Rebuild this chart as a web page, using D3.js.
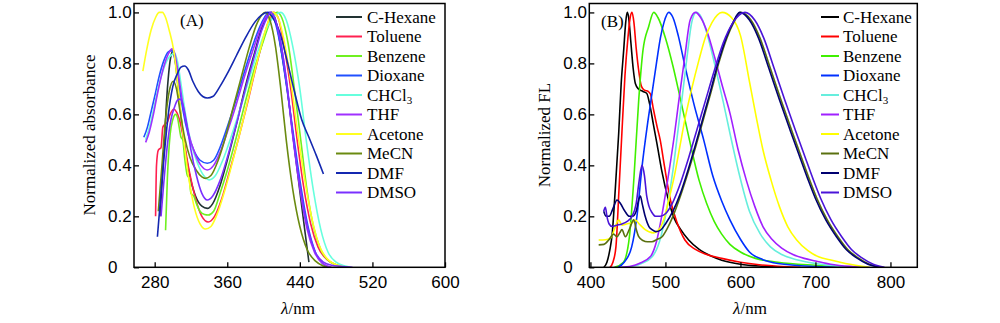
<!doctype html>
<html lang="en">
<head>
  <meta charset="utf-8">
  <title>Normalized absorbance and FL spectra</title>
  <style>
    body { margin: 0; background: #fff; }
    svg { display: block; font-family: "Liberation Serif", "Times New Roman", serif; }
    .tick line { stroke: #000; stroke-width: 1.3; }
    .tick text { font-size: 17px; fill: #000; }
    .frame { fill: none; stroke: #000; stroke-width: 1.5; }
    .curve { fill: none; stroke-width: 1.6; stroke-linejoin: round; }
    .lbl { font-size: 17px; fill: #000; }
  </style>
</head>
<body>
<svg id="chart" width="1000" height="323"></svg>
<script src="https://d3js.org/d3.v7.min.js"></script>
<script>
// solvent names, in legend order
const solvents = ['C-Hexane', 'Toluene', 'Benzene', 'Dioxane', 'CHCl3', 'THF', 'Acetone', 'MeCN', 'DMF', 'DMSO'];

// colours
const colorsA = ['#223333', '#ff2050', '#70f020', '#2050ff', '#66ffdd', '#a030ff', '#ffff20', '#6a8a10', '#1428b0', '#7a30ff'];
const colorsB = ['#000000', '#ff0000', '#40f000', '#0030ff', '#66eedd', '#a020ff', '#ffff00', '#5a7010', '#000070', '#4a14d8'];

const ticksA = [280, 360, 440, 520, 600];
const ticksB = [400, 500, 600, 700, 800];
const ticksY = [0, 0.2, 0.4, 0.6, 0.8, 1.0];

// (A) normalized absorbance, [wavelength nm, value]
const absCHexane = [[286,0.20],[290,0.45],[294,0.70],[298,0.83],[300.5,0.85],[303,0.80],[307,0.66],[312,0.50],[318,0.37],[325,0.28],[332,0.24],[338,0.231],[344,0.25],[352,0.32],[360,0.42],[370,0.56],[380,0.71],[390,0.84],[398,0.94],[404,0.99],[409,1.0],[414,0.96],[420,0.84],[426,0.70],[433,0.50],[441,0.27],[446,0.13],[450,0.02]];
const absToluene = [[281,0.20],[282,0.40],[284,0.46],[287,0.47],[289,0.55],[291,0.56],[294,0.57],[297,0.60],[301,0.62],[304,0.61],[308,0.57],[312,0.50],[318,0.38],[325,0.27],[332,0.20],[339,0.178],[346,0.20],[354,0.27],[362,0.37],[372,0.50],[382,0.64],[392,0.79],[400,0.90],[406,0.97],[411,1.0],[416,0.98],[422,0.88],[430,0.70],[437,0.50],[444,0.32],[452,0.17],[460,0.08],[470,0.03],[480,0.01],[488,0.0]];
const absBenzene = [[292,0.145],[294,0.35],[297,0.52],[300,0.58],[303,0.60],[305,0.59],[307,0.55],[309,0.51],[311,0.50],[313,0.43],[316,0.36],[318,0.35],[320,0.29],[323,0.28],[326,0.25],[330,0.22],[335,0.207],[339,0.205],[345,0.22],[352,0.29],[360,0.38],[370,0.51],[380,0.65],[390,0.78],[400,0.89],[408,0.97],[415,1.0],[420,0.98],[427,0.88],[434,0.70],[441,0.50],[448,0.30],[455,0.16],[463,0.07],[472,0.025],[482,0.008],[490,0.0]];
const absDioxane = [[268,0.51],[272,0.55],[276,0.61],[280,0.67],[285,0.75],[290,0.81],[295,0.845],[299,0.85],[302,0.82],[306,0.74],[311,0.62],[317,0.52],[323,0.46],[330,0.42],[338,0.408],[345,0.42],[352,0.47],[360,0.55],[370,0.66],[380,0.78],[390,0.89],[398,0.96],[406,1.0],[412,0.97],[418,0.88],[425,0.72],[433,0.52],[441,0.32],[449,0.16],[457,0.06],[465,0.015],[472,0.0]];
const absCHCl3 = [[270,0.50],[275,0.56],[280,0.64],[285,0.72],[290,0.78],[295,0.82],[299,0.835],[302,0.84],[305,0.81],[309,0.72],[314,0.60],[320,0.49],[327,0.41],[334,0.36],[340,0.343],[347,0.36],[355,0.42],[365,0.52],[375,0.63],[385,0.75],[395,0.86],[405,0.95],[413,0.99],[419,1.0],[425,0.97],[432,0.87],[440,0.70],[447,0.50],[455,0.30],[463,0.15],[471,0.06],[480,0.02],[490,0.005],[496,0.0]];
const absTHF = [[270,0.49],[274,0.53],[278,0.59],[283,0.68],[288,0.76],[293,0.82],[297,0.85],[299,0.857],[302,0.84],[306,0.76],[311,0.64],[317,0.53],[324,0.45],[331,0.40],[338,0.382],[345,0.40],[352,0.45],[360,0.53],[370,0.64],[380,0.76],[390,0.87],[398,0.95],[404,0.99],[407,1.0],[412,0.98],[418,0.90],[425,0.74],[432,0.52],[440,0.31],[448,0.15],[456,0.06],[465,0.015],[475,0.0]];
const absAcetone = [[267,0.77],[271,0.85],[276,0.93],[281,0.98],[285,1.0],[288.5,1.0],[292,0.98],[296,0.93],[301,0.85],[306,0.70],[312,0.50],[318,0.34],[324,0.23],[330,0.17],[336,0.15],[342,0.16],[350,0.22],[358,0.31],[367,0.43],[377,0.57],[387,0.72],[396,0.85],[403,0.94],[410,1.0],[416,0.98],[422,0.90],[430,0.73],[438,0.52],[446,0.33],[454,0.18],[462,0.08],[471,0.03],[480,0.01],[490,0.0]];
const absMeCN = [[284,0.22],[288,0.40],[292,0.58],[296,0.69],[300.5,0.73],[304,0.70],[308,0.61],[313,0.51],[319,0.43],[326,0.38],[332,0.355],[336,0.349],[342,0.36],[350,0.42],[358,0.51],[366,0.62],[375,0.74],[384,0.86],[392,0.95],[398,0.99],[402,1.0],[407,0.97],[413,0.87],[419,0.70],[425,0.50],[432,0.31],[440,0.16],[448,0.07],[457,0.025],[466,0.005],[470,0.0]];
const absDMF = [[283,0.12],[286,0.25],[290,0.42],[295,0.60],[300,0.71],[305,0.76],[309,0.785],[313,0.79],[317,0.775],[322,0.73],[328,0.69],[333,0.67],[338,0.664],[344,0.67],[352,0.71],[360,0.76],[370,0.83],[380,0.90],[390,0.96],[398,0.99],[404,1.0],[410,0.98],[418,0.92],[426,0.81],[434,0.69],[442,0.58],[450,0.51],[458,0.44],[466,0.366]];
const absDMSO = [[287,0.20],[290,0.33],[294,0.48],[298,0.58],[302,0.63],[305,0.655],[308,0.66],[311,0.64],[315,0.57],[320,0.46],[326,0.36],[332,0.29],[338,0.264],[344,0.28],[352,0.34],[360,0.43],[370,0.56],[380,0.70],[390,0.83],[398,0.93],[404,0.98],[408,1.0],[413,0.97],[419,0.88],[426,0.71],[433,0.50],[441,0.30],[449,0.15],[457,0.06],[466,0.02],[475,0.008],[485,0.004],[498,0.0]];

// (B) normalized fluorescence, [wavelength nm, value]
const flCHexane = [[418,0.0],[422,0.02],[426,0.07],[429,0.13],[433,0.30],[437.7,0.526],[441,0.72],[444.4,0.854],[447,0.96],[449,1.0],[451,0.98],[454,0.88],[457,0.78],[460,0.72],[464,0.70],[470,0.69],[475,0.683],[479,0.64],[484,0.56],[489,0.48],[495,0.38],[504,0.264],[512,0.19],[520,0.15],[531,0.107],[545,0.07],[560,0.045],[575,0.028],[600,0.012],[630,0.004],[660,0.0]];
const flToluene = [[426,0.0],[430,0.02],[434,0.08],[438,0.30],[442,0.53],[446,0.75],[450,0.90],[453,0.98],[455.5,1.0],[458,0.96],[461,0.86],[464,0.78],[468,0.71],[472,0.695],[477,0.69],[480,0.68],[484,0.62],[489,0.55],[493,0.50],[498,0.41],[506.6,0.264],[515,0.18],[526,0.107],[540,0.07],[555,0.05],[575,0.035],[600,0.02],[625,0.01],[650,0.004],[680,0.0]];
const flBenzene = [[432,0.0],[444,0.02],[452,0.12],[458,0.35],[464.4,0.657],[470,0.85],[477.7,0.945],[484.4,1.0],[490,0.98],[500,0.9],[510,0.79],[520,0.66],[532,0.5],[545,0.34],[555,0.25],[565,0.18],[575,0.13],[586,0.09],[600,0.06],[620,0.035],[650,0.02],[700,0.008],[750,0.0]];
const flDioxane = [[437,0.0],[445,0.02],[455,0.08],[462,0.2],[468.8,0.395],[476,0.56],[482,0.68],[488,0.8],[493.3,0.9],[498,0.96],[504.4,1.0],[510,0.98],[517,0.91],[526,0.79],[538,0.64],[551,0.5],[563,0.36],[575,0.26],[586,0.186],[600,0.11],[612,0.06],[630,0.03],[650,0.015],[700,0.003],[740,0.0]];
const flCHCl3 = [[446,0.0],[458,0.005],[468,0.015],[482,0.04],[492,0.1],[500,0.2],[510,0.38],[516,0.52],[522,0.66],[529,0.83],[535,0.96],[541,1.0],[548,0.98],[557,0.9],[567,0.78],[577,0.65],[586,0.526],[598,0.37],[612,0.22],[626,0.133],[640,0.08],[655,0.05],[675,0.03],[700,0.015],[730,0.004],[760,0.0]];
const flTHF = [[440,0.0],[455,0.005],[465,0.015],[480,0.042],[488,0.1],[495,0.2],[505,0.38],[512,0.52],[518,0.657],[526,0.83],[533,0.97],[540,1.0],[547,0.98],[556,0.92],[566,0.82],[576,0.71],[586,0.605],[597,0.46],[608,0.34],[619,0.24],[630,0.16],[642,0.11],[655,0.075],[670,0.05],[685,0.035],[700,0.025],[720,0.012],[750,0.003],[770,0.0]];
const flAcetone = [[411,0.107],[420,0.108],[427,0.115],[432,0.15],[437.7,0.186],[442,0.165],[448,0.17],[455.5,0.175],[460,0.185],[465,0.17],[473,0.148],[484,0.135],[492,0.15],[498,0.19],[504.4,0.264],[512,0.36],[519,0.47],[526.6,0.59],[535,0.70],[544.4,0.81],[553,0.90],[562,0.96],[575.5,1.0],[588,0.98],[600,0.91],[612.4,0.723],[621,0.59],[630,0.461],[641,0.34],[652,0.238],[663,0.16],[675,0.107],[690,0.065],[705,0.04],[719,0.03],[740,0.015],[772,0.0]];
const flMeCN = [[411,0.088],[418,0.09],[424.4,0.107],[431,0.13],[435.5,0.12],[439,0.135],[442,0.148],[446.6,0.12],[452,0.15],[457.7,0.186],[461,0.15],[464.4,0.12],[470,0.105],[476,0.10],[482,0.10],[489,0.11],[495.5,0.12],[502,0.15],[510,0.2],[520,0.28],[531,0.38],[541,0.48],[551,0.585],[561,0.69],[571,0.80],[582,0.9],[591,0.96],[600,1.0],[614,0.97],[626,0.90],[640,0.78],[654,0.657],[668,0.54],[681,0.434],[692,0.345],[702,0.27],[716,0.185],[730,0.12],[743,0.07],[757,0.037],[772,0.012],[788,0.0]];
const flDMF = [[417.7,0.22],[421,0.20],[425,0.20],[430,0.23],[435.5,0.264],[440,0.25],[446,0.22],[452,0.20],[456,0.20],[461,0.22],[464,0.26],[466.6,0.28],[469,0.25],[473,0.20],[478,0.16],[482,0.148],[487,0.14],[493,0.145],[500,0.17],[510,0.22],[520,0.29],[530,0.38],[540,0.48],[550,0.585],[560,0.69],[570,0.80],[581,0.9],[590,0.96],[599,1.0],[612,0.97],[624,0.90],[638,0.78],[652,0.657],[666,0.54],[679,0.434],[690,0.345],[700,0.27],[714,0.185],[728,0.12],[741,0.07],[755,0.037],[770,0.012],[786,0.0]];
const flDMSO = [[417.7,0.22],[420,0.235],[422,0.20],[425,0.17],[429,0.16],[435,0.165],[442,0.17],[449,0.18],[455.5,0.20],[461,0.25],[465,0.34],[468.8,0.40],[472,0.36],[475,0.28],[478,0.24],[482,0.215],[487,0.20],[493,0.20],[500,0.21],[509,0.25],[520,0.33],[531,0.43],[542,0.54],[553,0.65],[565,0.77],[577,0.88],[590,0.96],[606,1.0],[619,0.97],[631,0.90],[645,0.78],[659,0.657],[673,0.54],[686,0.434],[697,0.345],[707,0.27],[721,0.185],[735,0.12],[748,0.07],[762,0.037],[777,0.012],[792,0.0]];

const seriesA = [absCHexane, absToluene, absBenzene, absDioxane, absCHCl3, absTHF, absAcetone, absMeCN, absDMF, absDMSO];
const seriesB = [flCHexane, flToluene, flBenzene, flDioxane, flCHCl3, flTHF, flAcetone, flMeCN, flDMF, flDMSO];

const svg = d3.select('#chart');
svg.append('rect').attr('width', 1000).attr('height', 323).attr('fill', '#fff');

function drawPanel(p) {
  const x = d3.scaleLinear().domain(p.xDomain).range([p.left, p.right]);
  const y = d3.scaleLinear().domain([0, 1.035]).range([267.3, 3.5]);
  const g = svg.append('g');

  // curves first, frame on top
  const line = d3.line().x(d => x(d[0])).y(d => y(d[1])).curve(d3.curveMonotoneX);
  const clipId = 'clip' + p.id;
  svg.append('clipPath').attr('id', clipId).append('rect')
    .attr('x', p.left).attr('y', 3.5).attr('width', p.right - p.left).attr('height', 263.8);
  g.append('g').attr('clip-path', `url(#${clipId})`)
    .selectAll('path')
    .data(p.series)
    .join('path')
    .attr('class', 'curve')
    .attr('d', line)
    .attr('stroke', (d, i) => p.colors[i]);

  // x axis, ticks pointing inward
  const xAxis = g.append('g').attr('transform', 'translate(0,267.3)')
    .call(d3.axisBottom(x).tickValues(p.xTicks).tickSizeInner(-5).tickSizeOuter(0).tickFormat(d3.format('d')));
  xAxis.select('.domain').remove();
  xAxis.selectAll('.tick text').attr('y', 9);

  // y axis, labels left aligned
  const yAxis = g.append('g').attr('transform', `translate(${p.left},0)`)
    .call(d3.axisLeft(y).tickValues(ticksY).tickSizeInner(-5).tickSizeOuter(0).tickFormat(d => d === 0 ? '0' : d3.format('.1f')(d)));
  yAxis.select('.domain').remove();
  yAxis.selectAll('.tick text').attr('text-anchor', 'start').attr('x', -26);

  g.append('rect').attr('class', 'frame')
    .attr('x', p.left).attr('y', 3.5).attr('width', p.right - p.left).attr('height', 263.8);

  // axis titles
  g.append('text').attr('class', 'lbl')
    .attr('transform', `translate(${p.yTitleX},135) rotate(-90)`)
    .attr('text-anchor', 'middle').text(p.yTitle);
  const xt = g.append('text').attr('class', 'lbl').attr('x', p.xTitleX).attr('y', 314).attr('text-anchor', 'middle');
  xt.append('tspan').attr('font-style', 'italic').text('λ');
  xt.append('tspan').text('/nm');

  g.append('text').attr('class', 'lbl').attr('x', p.tagX).attr('y', p.tagY).text(p.tag);

  // legend
  const leg = g.append('g');
  solvents.forEach((s, i) => {
    const cy = 17 + i * 19.5;
    leg.append('line').attr('x1', p.legX1).attr('x2', p.legX2).attr('y1', cy).attr('y2', cy)
      .attr('stroke', p.colors[i]).attr('stroke-width', 2);
    const t = leg.append('text').attr('class', 'lbl').attr('x', p.legText).attr('y', cy + 5.5);
    if (s === 'CHCl3') {
      t.append('tspan').text('CHCl');
      t.append('tspan').attr('font-size', 11).attr('dy', 3).text('3');
    } else {
      t.text(s);
    }
  });
}

drawPanel({
  id: 'A', tag: '(A)', tagX: 180, tagY: 26,
  left: 134, right: 445, xDomain: [257.2, 600], xTicks: ticksA,
  series: seriesA, colors: colorsA,
  yTitle: 'Normalized absorbance', yTitleX: 95, xTitleX: 298,
  legX1: 336, legX2: 362, legText: 367
});

drawPanel({
  id: 'B', tag: '(B)', tagX: 601, tagY: 27,
  left: 589.3, right: 917.3, xDomain: [398.5, 835.8], xTicks: ticksB,
  series: seriesB, colors: colorsB,
  yTitle: 'Normalized FL', yTitleX: 550, xTitleX: 750,
  legX1: 821, legX2: 839, legText: 843
});
</script>
</body>
</html>
